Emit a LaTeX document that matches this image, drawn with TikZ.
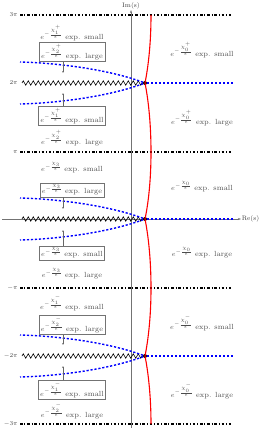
\documentclass[tikz,border=0pt]{standalone}
\usetikzlibrary{decorations.pathmorphing,arrows.meta}
\begin{document}
\begin{tikzpicture}[x=1pt,y=-1pt,
  lbl/.style={text=black!70,font=\fontsize{7.4}{8}\selectfont,inner sep=1pt},
  boxlbl/.style={lbl,draw=black!55,inner sep=1.8pt},
  ylab/.style={text=black!75,font=\fontsize{6.5}{7}\selectfont,anchor=east,inner sep=1pt},
  dashdot/.style={line width=1.6pt,dash pattern=on 2.6pt off 1.8pt on 1pt off 1.8pt},
  bluedot/.style={blue,line width=1.4pt,dash pattern=on 2.2pt off 1.8pt},
  zz/.style={decorate,decoration={zigzag,segment length=5pt,amplitude=2.2pt},line width=0.6pt},
  redc/.style={red,line width=1.1pt},
  axis/.style={black!55,line width=0.5pt,-{Stealth[length=3pt,width=2pt]}},
  smarr/.style={black!60,line width=0.4pt,-{Stealth[length=2pt,width=1.6pt]}},
  dot/.style={circle,fill=black,inner sep=0pt,minimum size=4pt}]
\useasboundingbox (0,0) rectangle (262,430);
% axes
\coordinate (imb) at (131,428);
\coordinate (imt) at (131,10);
\coordinate (rel) at (2,219);
\coordinate (rer) at (241,219);
\draw[axis] (imb) -- (imt) node[above,black!75,font=\fontsize{6.5}{7}\selectfont,inner sep=0.5pt] (iml) {Im(s)};
\draw[axis] (rel) -- (rer) node[right,black!75,font=\fontsize{6.5}{7}\selectfont,inner sep=0.5pt] (rel2) {Re(s)};
% horizontal dash-dot lines
\foreach \n/\y/\t in {a/15/$3\pi$,b/152/$\pi$,c/288/$-\pi$,d/424/$-3\pi$}{
  \coordinate (l\n) at (20,\y);
  \coordinate (r\n) at (233,\y);
  \node[ylab] (y\n) at (19,\y) {\t};
  \draw[dashdot] (l\n) -- (r\n);
}
% branch points
\foreach \n/\y/\t in {1/83/$2\pi$,2/219/{},3/356/$-2\pi$}{
  \node[dot] (d\n) at (145,\y) {};
  \coordinate (zl\n) at (22,\y);
  \coordinate (br\n) at (233,\y);
  \coordinate (bu\n) at (20,\y-21);
  \coordinate (bd\n) at (20,\y+21);
  \node[ylab] (yz\n) at (19,\y) {\t};
  \draw[zz] (zl\n) -- (d\n.west);
  \draw[bluedot] (d\n) -- (br\n);
  \draw[bluedot] (d\n) .. controls (110,\y-13) and (60,\y-20) .. (bu\n);
  \draw[bluedot] (d\n) .. controls (110,\y+13) and (60,\y+20) .. (bd\n);
}
% red curve
\coordinate (ra) at (151,15);
\coordinate (rb) at (151,152);
\coordinate (rc) at (151,288);
\coordinate (rd) at (151,424);
\draw[redc] (ra) .. controls (151,45) and (148,68) .. (d1.center)
  .. controls (148,98) and (151,122) .. (rb)
  .. controls (151,182) and (148,205) .. (d2.center)
  .. controls (148,234) and (151,258) .. (rc)
  .. controls (151,318) and (148,341) .. (d3.center)
  .. controls (148,371) and (151,395) .. (rd);
% left labels
\node[lbl] (t1) at (72,33) {$e^{-\frac{\chi_1^+}{\epsilon}}$ exp. small};
\node[boxlbl] (t2) at (72,52) {$e^{-\frac{\chi_2^+}{\epsilon}}$ exp. large};
\node[boxlbl] (t3) at (72,116) {$e^{-\frac{\chi_1^+}{\epsilon}}$ exp. small};
\node[lbl] (t4) at (72,138) {$e^{-\frac{\chi_2^+}{\epsilon}}$ exp. large};
\node[lbl] (t5) at (72,168) {$e^{-\frac{\chi_3}{\epsilon}}$ exp. small};
\node[boxlbl] (t6) at (72,190) {$e^{-\frac{\chi_3}{\epsilon}}$ exp. large};
\node[boxlbl] (t7) at (72,253) {$e^{-\frac{\chi_3}{\epsilon}}$ exp. small};
\node[lbl] (t8) at (72,274) {$e^{-\frac{\chi_3}{\epsilon}}$ exp. large};
\node[lbl] (t9) at (72,303) {$e^{-\frac{\chi_1^-}{\epsilon}}$ exp. small};
\node[boxlbl] (t10) at (72,325) {$e^{-\frac{\chi_2^-}{\epsilon}}$ exp. large};
\node[boxlbl] (t11) at (72,390) {$e^{-\frac{\chi_1^-}{\epsilon}}$ exp. small};
\node[lbl] (t12) at (72,411) {$e^{-\frac{\chi_2^-}{\epsilon}}$ exp. large};
% right labels
\node[lbl] (s1) at (202,50) {$e^{-\frac{\chi_0^+}{\epsilon}}$ exp. small};
\node[lbl] (s2) at (202,118) {$e^{-\frac{\chi_0^+}{\epsilon}}$ exp. large};
\node[lbl] (s3) at (202,187) {$e^{-\frac{\chi_0}{\epsilon}}$ exp. small};
\node[lbl] (s4) at (202,253) {$e^{-\frac{\chi_0}{\epsilon}}$ exp. large};
\node[lbl] (s5) at (202,323) {$e^{-\frac{\chi_0^-}{\epsilon}}$ exp. small};
\node[lbl] (s6) at (202,391) {$e^{-\frac{\chi_0^-}{\epsilon}}$ exp. large};
% small arrows
\coordinate (a2) at (63,73);
\coordinate (a3) at (63,93);
\coordinate (a6) at (63,209);
\coordinate (a7) at (63,230);
\coordinate (a10) at (63,345);
\coordinate (a11) at (63,366);
\draw[smarr] (t2.south -| a2) -- (a2);
\draw[smarr] (t3.north -| a3) -- (a3);
\draw[smarr] (t6.south -| a6) -- (a6);
\draw[smarr] (t7.north -| a7) -- (a7);
\draw[smarr] (t10.south -| a10) -- (a10);
\draw[smarr] (t11.north -| a11) -- (a11);
\end{tikzpicture}
\end{document}
